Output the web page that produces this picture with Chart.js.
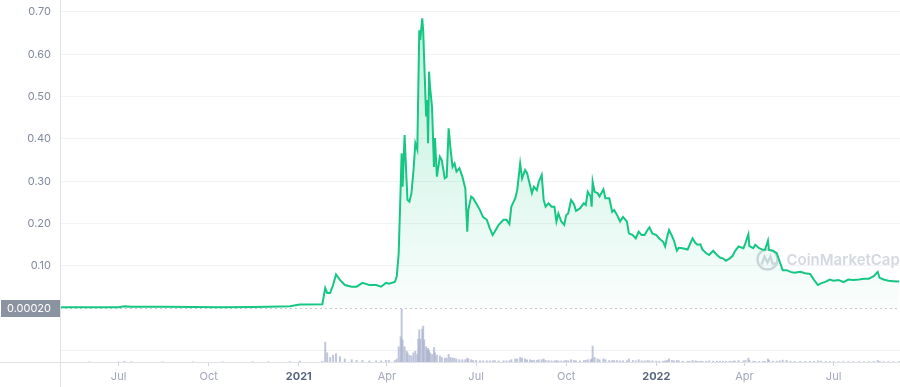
<!DOCTYPE html>
<html lang="en">
<head>
  <meta charset="UTF-8" />
  <title>Price chart</title>
  <script src="https://cdn.jsdelivr.net/npm/chart.js@4"></script>
  <style>
    html, body { margin: 0; padding: 0; background: #fff; }
    .chart-box { width: 900px; height: 387px; position: relative; }
  </style>
</head>
<body>
<div class="chart-box"><canvas id="priceChart"></canvas></div>
<script>
  // daily samples
  const dates = [
    '2020-05-02','2020-06-01','2020-07-01','2020-07-07','2020-07-14','2020-08-15','2020-09-15','2020-10-15',
    '2020-11-15','2020-12-01','2020-12-23','2021-01-02','2021-01-25','2021-01-28','2021-01-30','2021-02-02',
    '2021-02-05','2021-02-08','2021-02-12','2021-02-17','2021-02-24','2021-03-01','2021-03-07','2021-03-14',
    '2021-03-21','2021-03-26','2021-03-31','2021-04-03','2021-04-09','2021-04-11','2021-04-13','2021-04-15',
    '2021-04-16','2021-04-17','2021-04-19','2021-04-21','2021-04-22','2021-04-24','2021-04-26','2021-04-28',
    '2021-04-30','2021-05-02','2021-05-03','2021-05-04','2021-05-05','2021-05-07','2021-05-08','2021-05-09',
    '2021-05-11','2021-05-12','2021-05-13','2021-05-14','2021-05-15','2021-05-17','2021-05-19','2021-05-20',
    '2021-05-22','2021-05-25','2021-05-27','2021-05-30','2021-06-01','2021-06-03','2021-06-05','2021-06-07',
    '2021-06-09','2021-06-11','2021-06-14','2021-06-17','2021-06-20','2021-06-22','2021-06-23','2021-06-26',
    '2021-06-28','2021-07-01','2021-07-05','2021-07-08','2021-07-12','2021-07-15','2021-07-18','2021-07-20',
    '2021-07-24','2021-07-29','2021-08-01','2021-08-04','2021-08-06','2021-08-10','2021-08-12','2021-08-15',
    '2021-08-17','2021-08-20','2021-08-22','2021-08-25','2021-08-27','2021-08-29','2021-09-01','2021-09-03',
    '2021-09-06','2021-09-08','2021-09-10','2021-09-13','2021-09-16','2021-09-19','2021-09-21','2021-09-23',
    '2021-09-26','2021-09-29','2021-10-01','2021-10-03','2021-10-06','2021-10-09','2021-10-11','2021-10-15',
    '2021-10-19','2021-10-21','2021-10-23','2021-10-26','2021-10-27','2021-10-28','2021-10-30','2021-11-02',
    '2021-11-04','2021-11-08','2021-11-10','2021-11-14','2021-11-17','2021-11-19','2021-11-22','2021-11-25',
    '2021-11-28','2021-12-02','2021-12-04','2021-12-08','2021-12-11','2021-12-14','2021-12-17','2021-12-20',
    '2021-12-23','2021-12-25','2021-12-28','2022-01-01','2022-01-04','2022-01-08','2022-01-10','2022-01-12',
    '2022-01-14','2022-01-17','2022-01-19','2022-01-22','2022-01-24','2022-01-28','2022-02-02','2022-02-04',
    '2022-02-07','2022-02-10','2022-02-12','2022-02-15','2022-02-17','2022-02-21','2022-02-24','2022-02-28',
    '2022-03-04','2022-03-07','2022-03-10','2022-03-13','2022-03-17','2022-03-20','2022-03-22','2022-03-26',
    '2022-03-31','2022-04-02','2022-04-05','2022-04-06','2022-04-10','2022-04-12','2022-04-16','2022-04-20',
    '2022-04-22','2022-04-25','2022-04-26','2022-04-30','2022-05-04','2022-05-07','2022-05-10','2022-05-14',
    '2022-05-18','2022-05-22','2022-05-28','2022-06-02','2022-06-07','2022-06-11','2022-06-15','2022-06-18',
    '2022-06-23','2022-06-27','2022-07-01','2022-07-06','2022-07-11','2022-07-16','2022-07-21','2022-07-27',
    '2022-08-01','2022-08-06','2022-08-11','2022-08-15','2022-08-17','2022-08-21','2022-08-26','2022-08-31','2022-09-06'
  ];

  // price in USD
  const prices = [
    0.0025, 0.0026, 0.0026, 0.0045, 0.0034, 0.0035, 0.0030, 0.0026,
    0.0030, 0.0034, 0.0050, 0.0090, 0.0095, 0.048, 0.036, 0.036,
    0.055, 0.080, 0.067, 0.055, 0.051, 0.051, 0.060, 0.055,
    0.055, 0.051, 0.060, 0.058, 0.062, 0.075, 0.130, 0.287,
    0.366, 0.287, 0.409, 0.303, 0.256, 0.252, 0.272, 0.323,
    0.390, 0.375, 0.516, 0.657, 0.634, 0.685, 0.657, 0.587,
    0.453, 0.492, 0.390, 0.559, 0.523, 0.476, 0.334, 0.402,
    0.311, 0.358, 0.350, 0.307, 0.310, 0.425, 0.374, 0.334,
    0.342, 0.323, 0.331, 0.311, 0.283, 0.181, 0.232, 0.264,
    0.260, 0.248, 0.232, 0.216, 0.209, 0.189, 0.173, 0.181,
    0.197, 0.209, 0.209, 0.199, 0.240, 0.260, 0.279, 0.342,
    0.307, 0.327, 0.320, 0.291, 0.272, 0.287, 0.279, 0.299,
    0.315, 0.256, 0.240, 0.248, 0.240, 0.240, 0.205, 0.224,
    0.205, 0.197, 0.220, 0.224, 0.256, 0.246, 0.230, 0.236,
    0.248, 0.244, 0.275, 0.264, 0.240, 0.299, 0.275, 0.272,
    0.264, 0.281, 0.260, 0.260, 0.228, 0.232, 0.220, 0.205,
    0.216, 0.205, 0.177, 0.173, 0.165, 0.181, 0.173, 0.173,
    0.185, 0.191, 0.177, 0.173, 0.165, 0.157, 0.146, 0.168,
    0.185, 0.171, 0.160, 0.136, 0.143, 0.142, 0.139, 0.150,
    0.165, 0.154, 0.150, 0.151, 0.139, 0.130, 0.126, 0.136,
    0.126, 0.120, 0.118, 0.112, 0.118, 0.124, 0.134, 0.146,
    0.142, 0.154, 0.175, 0.147, 0.142, 0.150, 0.142, 0.138,
    0.138, 0.160, 0.138, 0.136, 0.130, 0.110, 0.090, 0.090,
    0.086, 0.084, 0.086, 0.083, 0.081, 0.067, 0.055, 0.059,
    0.063, 0.068, 0.065, 0.067, 0.062, 0.068, 0.067, 0.068,
    0.070, 0.070, 0.076, 0.086, 0.072, 0.068, 0.065, 0.064, 0.063
  ];

  // 24h volume, billions USD
  const volumes = [
    0.2, 0.2, 0.2, 0.9, 0.3, 0.3, 0.2, 0.2,
    0.3, 0.3, 0.4, 1.0, 0.8, 26, 12, 6,
    9, 11, 7, 4, 3, 2, 2, 1.5,
    1.5, 1.5, 2, 2, 2, 4, 20, 33,
    69, 29, 20, 14, 12, 9, 8, 12,
    14, 10, 30, 42, 30, 43, 47, 29,
    20, 16, 18, 15, 12, 10, 19, 12,
    9, 8, 6, 5, 5, 10, 6, 5,
    5, 4, 3, 3, 3, 5, 4, 3,
    2, 2, 1.5, 1.5, 1.5, 1.5, 1.5, 2,
    1.5, 1.5, 1.5, 1.5, 3, 4, 4, 6,
    5, 4, 3, 3, 2, 2, 2, 3,
    3, 4, 2, 2, 1.5, 1.5, 2, 1.5,
    1.5, 1.5, 2, 1.5, 3, 2, 1.5, 1.5,
    2, 2, 3, 3, 4, 21, 6, 4,
    3, 4, 3, 2, 2, 2, 2, 1.5,
    1.5, 1.5, 4, 2, 1.5, 3, 1.5, 1.5,
    2, 1.5, 1.5, 1, 1, 1, 1.5, 2,
    4, 2, 1.5, 2, 1.5, 1, 1, 1,
    2, 1.5, 1, 1, 1, 1, 1.5, 1,
    1, 1, 1, 0.8, 1, 1, 1.5, 2,
    1.5, 2, 5, 2, 1, 1, 0.8, 0.8,
    0.8, 4, 2, 1, 1, 1.5, 2.5, 2,
    1, 0.8, 0.8, 0.8, 0.8, 1, 1.5, 1,
    0.6, 0.6, 0.5, 0.5, 0.5, 0.5, 0.5, 0.5,
    0.5, 0.5, 0.8, 2, 1, 0.6, 0.5, 0.4, 0.4
  ];

  const tickDates = ['2020-07-01','2020-10-01','2021-01-01','2021-04-01','2021-07-01','2021-10-01','2022-01-01','2022-04-01','2022-07-01'];
  const tickLabels = ['Jul','Oct','2021','Apr','Jul','Oct','2022','Apr','Jul'];
  const priceTicks = [0.1, 0.2, 0.3, 0.4, 0.5, 0.6, 0.7];
  const startLabel = '0.00020';

  const DAY = 86400000;
  const base = Date.parse('2020-05-01');
  function dayIndex(s) {
    return (Date.parse(s) - base) / DAY;
  }

  const green = '#16c784';

  // no extra edge padding, chart area fills the canvas
  function noPadding(s) {
    s.paddingTop = 0;
    s.paddingBottom = 0;
    s.paddingLeft = 0;
    s.paddingRight = 0;
  }

  const decor = {
    id: 'decor',
    beforeDatasetsDraw(chart) {
      const { ctx, chartArea } = chart;
      const y0 = chart.scales.y.getPixelForValue(0);
      const yv = Math.round(chart.scales.yv.getPixelForValue(16)) + 0.5;
      ctx.save();
      // faint volume guide
      ctx.strokeStyle = '#eef0f3';
      ctx.lineWidth = 1;
      ctx.beginPath();
      ctx.moveTo(chartArea.left, yv);
      ctx.lineTo(chartArea.right, yv);
      ctx.stroke();
      // dotted zero line
      ctx.strokeStyle = '#c3c7cf';
      ctx.setLineDash([2, 3]);
      ctx.beginPath();
      ctx.moveTo(chartArea.left, Math.round(y0) + 0.5);
      ctx.lineTo(chartArea.right, Math.round(y0) + 0.5);
      ctx.stroke();
      ctx.setLineDash([]);

      // watermark
      const cx = chartArea.right - 132.5, cy = 259.5;
      ctx.strokeStyle = '#d4d8df';
      ctx.lineWidth = 2.4;
      ctx.beginPath();
      ctx.arc(cx, cy, 10, 0, Math.PI * 2);
      ctx.stroke();
      ctx.beginPath();
      ctx.moveTo(cx - 6, cy + 5);
      ctx.lineTo(cx - 3, cy - 3);
      ctx.lineTo(cx, cy + 3);
      ctx.lineTo(cx + 3, cy - 3);
      ctx.lineTo(cx + 5, cy + 4);
      ctx.lineTo(cx + 9, cy + 4);
      ctx.stroke();
      ctx.fillStyle = '#d4d8df';
      ctx.font = '600 15px Inter';
      ctx.textAlign = 'left';
      ctx.textBaseline = 'middle';
      ctx.fillText('CoinMarketCap', cx + 19, cy + 1);
      ctx.restore();
    },
    afterDraw(chart) {
      const { ctx, chartArea } = chart;
      const y0 = chart.scales.y.getPixelForValue(0);
      ctx.save();
      ctx.strokeStyle = '#dfe2e7';
      ctx.lineWidth = 1;
      ctx.beginPath();
      ctx.moveTo(chartArea.left + 0.5, 0);
      ctx.lineTo(chartArea.left + 0.5, chart.height);
      ctx.moveTo(0, Math.round(chartArea.bottom) + 0.5);
      ctx.lineTo(chart.width, Math.round(chartArea.bottom) + 0.5);
      ctx.stroke();
      // start price badge
      ctx.fillStyle = '#8b92a0';
      ctx.fillRect(1, Math.round(y0) - 8, chartArea.left - 1, 17);
      ctx.fillStyle = '#ffffff';
      ctx.font = '11px Inter';
      ctx.textAlign = 'right';
      ctx.textBaseline = 'middle';
      ctx.fillText(startLabel, chartArea.left - 9, Math.round(y0) + 0.5);
      ctx.restore();
    }
  };

  const ctx = document.getElementById('priceChart').getContext('2d');
  new Chart(ctx, {
    type: 'line',
    data: {
      datasets: [
        {
          type: 'line',
          data: dates.map((d, i) => ({ x: dayIndex(d), y: prices[i] })),
          borderColor: green,
          borderWidth: 2,
          pointRadius: 0,
          tension: 0,
          fill: 'origin',
          backgroundColor: (c) => {
            const { chartArea, scales } = c.chart;
            if (!chartArea) return 'rgba(22,199,132,0.1)';
            const g = c.chart.ctx.createLinearGradient(0, chartArea.top, 0, scales.y.getPixelForValue(0));
            g.addColorStop(0, 'rgba(22,199,132,0.30)');
            g.addColorStop(1, 'rgba(22,199,132,0.02)');
            return g;
          },
          yAxisID: 'y',
          order: 1
        },
        {
          type: 'bar',
          data: dates.map((d, i) => ({ x: dayIndex(d), y: volumes[i] })),
          backgroundColor: 'rgba(170,178,205,0.75)',
          barThickness: 1.3,
          yAxisID: 'yv',
          order: 2
        }
      ]
    },
    options: {
      responsive: true,
      maintainAspectRatio: false,
      animation: false,
      layout: { padding: 0 },
      plugins: {
        legend: { display: false },
        tooltip: { enabled: false }
      },
      scales: {
        x: {
          type: 'linear',
          min: 1.2,
          max: 858.8,
          offset: false,
          afterBuildTicks: (s) => { s.ticks = tickDates.map(d => ({ value: dayIndex(d) })); },
          afterFit: (s) => { s.height = 25; noPadding(s); },
          ticks: {
            autoSkip: false,
            maxRotation: 0,
            padding: 4,
            callback: (v, i) => tickLabels[i],
            color: (c) => /^\d{4}$/.test(c.tick && c.tick.label) ? '#58667e' : '#a1a7b7',
            font: (c) => ({ family: 'Inter', size: 11, weight: /^\d{4}$/.test(c.tick && c.tick.label) ? '700' : '400' })
          },
          grid: { drawOnChartArea: false, drawTicks: true, tickLength: 4, color: '#cfd3da', offset: false },
          border: { display: false }
        },
        y: {
          position: 'left',
          min: -0.1269,
          max: 0.7283,
          afterBuildTicks: (s) => { s.ticks = priceTicks.map(v => ({ value: v })); },
          afterFit: (s) => { s.width = 60; noPadding(s); },
          ticks: {
            padding: 9,
            color: '#808a9d',
            font: { family: 'Inter', size: 11 },
            callback: (v) => Number(v).toFixed(2)
          },
          grid: { color: '#f2f3f6', drawTicks: false },
          border: { display: false }
        },
        yv: {
          display: false,
          min: 0,
          max: 474
        }
      }
    },
    plugins: [decor]
  });
</script>
</body>
</html>
